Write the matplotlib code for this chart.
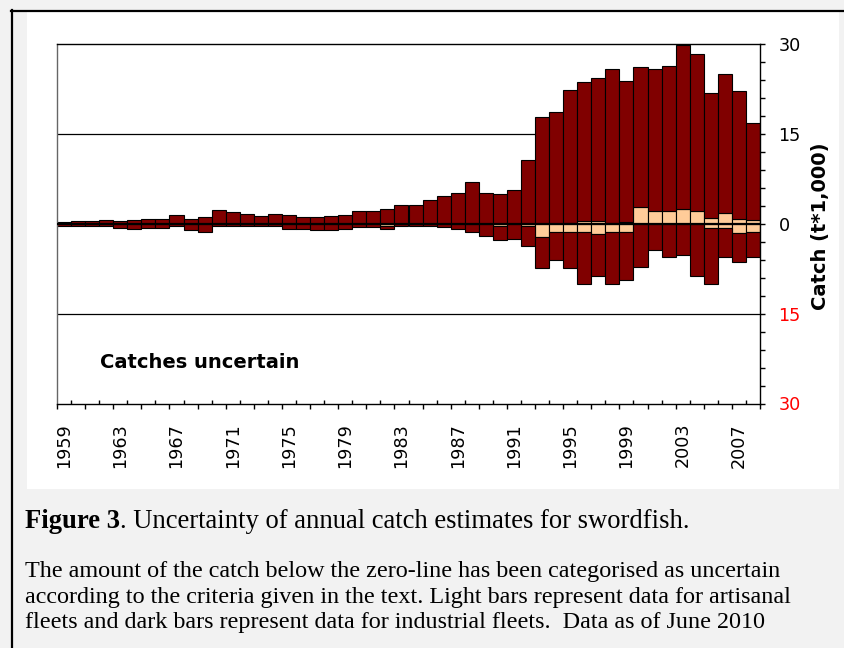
import matplotlib
matplotlib.use("Agg")
import matplotlib.pyplot as plt
from matplotlib.patches import Rectangle
from matplotlib.lines import Line2D
import numpy as np

# ---------------- data (t*1,000) ----------------
years = list(range(1959, 2009))

# certain catches (above zero)
total_certain = [0.35, 0.45, 0.45, 0.67, 0.45, 0.6, 0.83, 0.83, 1.5, 0.83,
                 1.06, 2.28, 1.9, 1.67, 1.22, 1.67, 1.44, 1.06, 1.06, 1.28,
                 1.5, 2.06, 2.06, 2.44, 3.05, 3.05, 3.9, 4.55, 5.1, 6.95,
                 5.1, 4.95, 5.56, 10.67, 17.83, 18.6, 22.3, 23.6, 24.3, 25.8,
                 23.9, 26.2, 25.8, 26.4, 29.9, 28.4, 21.9, 25.0, 22.2, 16.8]
artisanal_certain = [0]*36 + [0.1, 0.4, 0.4, 0.2, 0.3, 2.85, 2.1, 2.2, 2.4, 2.2,
                              0.95, 1.8, 0.8, 0.55]
# uncertain catches (below zero, magnitudes)
total_uncertain = [0.4, 0.3, 0.3, 0.3, 0.7, 0.95, 0.7, 0.7, 0.3, 1.1,
                   1.3, 0.3, 0.3, 0.3, 0.3, 0.3, 0.95, 0.95, 1.1, 1.1,
                   0.95, 0.55, 0.55, 0.9, 0.45, 0.4, 0.4, 0.5, 0.9, 1.4,
                   2.0, 2.7, 2.5, 3.7, 7.4, 6.0, 7.4, 10.05, 8.67, 10.05,
                   9.44, 7.2, 4.33, 5.56, 5.17, 8.78, 10.05, 5.56, 6.39, 5.56]
artisanal_uncertain = [0]*23 + [0.3, 0, 0, 0, 0, 0, 0, 0, 0.3, 0, 0.3,
                                2.2, 1.3, 1.3, 1.3, 1.7, 1.3, 1.44, 0, 0, 0, 0, 0,
                                0.67, 0.7, 1.56, 1.39]

label_years = list(range(1959, 2009, 4))
ytick_values = [30, 15, 0, -15, -30]

DARK = "#800000"
LIGHT = "#ffcc99"

yrs = np.array(years, dtype=float)
tc = np.array(total_certain)
ac = np.array(artisanal_certain)
tu = np.array(total_uncertain)
au = np.array(artisanal_uncertain)
ic = tc - ac
iu = tu - au

W, H = 844, 648
fig = plt.figure(figsize=(W/100, H/100), dpi=100, facecolor="#f2f2f2")

# white panel and frame lines
fig.patches.append(Rectangle((27/W, 1-489/H), (839-27)/W, (489-12)/H,
                             transform=fig.transFigure, facecolor="white",
                             edgecolor="none", zorder=-5))
fig.lines.append(Line2D([12/W, 12/W], [0, 1-10/H], transform=fig.transFigure,
                        color="black", lw=1.6, zorder=-4))
fig.lines.append(Line2D([11/W, 1], [1-11/H, 1-11/H], transform=fig.transFigure,
                        color="black", lw=1.6, zorder=-4))

ax = fig.add_axes([57/W, 1-403.5/H, 703/W, 359.5/H])
ax.set_zorder(2)
ax.set_facecolor("white")

bw = 1.0
kw = dict(width=bw, edgecolor="black", linewidth=0.8, align="center", zorder=2)
ax.bar(yrs, ac, color=LIGHT, **kw)
ax.bar(yrs, ic, bottom=ac, color=DARK, **kw)
ax.bar(yrs, -au, color=LIGHT, **kw)
ax.bar(yrs, -iu, bottom=-au, color=DARK, **kw)

ax.axhline(0, color="black", lw=1.6, zorder=3)
ax.axhline(15, color="black", lw=0.9, zorder=1)
ax.axhline(-15, color="black", lw=0.9, zorder=1)

ax.set_xlim(yrs[0]-0.5, yrs[-1]+0.5)
ax.set_ylim(-30, 30)

for s in ["top", "right", "bottom"]:
    ax.spines[s].set_color("black")
    ax.spines[s].set_linewidth(1.0)
ax.spines["left"].set_color("#666666")
ax.spines["left"].set_linewidth(1.0)

# y axis on the right
ax.yaxis.tick_right()
ax.set_yticks(ytick_values)
ax.set_yticklabels([str(abs(v)) for v in ytick_values])
ax.set_yticks(np.arange(-30, 31, 3), minor=True)
ax.tick_params(axis="y", which="both", direction="out", length=3.8, width=1,
               labelsize=12.7, pad=9.5, left=False, right=True)
for lab, v in zip(ax.get_yticklabels(), ytick_values):
    lab.set_color("red" if v < 0 else "black")

# x axis
ax.set_xticks(label_years)
ax.set_xticklabels([str(y) for y in label_years], rotation=90, fontsize=12.7,
                   va="top", ha="center")
ax.tick_params(axis="x", which="major", length=0, pad=14)
bounds = yrs[0] - 0.5 + np.arange(len(years) + 1)
ax.set_xticks(bounds[::2], minor=True)
ax.tick_params(axis="x", which="minor", direction="out", length=3.8, width=1)
sec = ax.secondary_xaxis("bottom")
sec.set_xticks(bounds[1::2])
sec.set_xticklabels([])
sec.tick_params(direction="in", length=2.8, width=1)
sec.spines["bottom"].set_visible(False)

ax.text((100-57)/703, (403.5-363)/359.5, "Catches uncertain", transform=ax.transAxes,
        fontsize=14, fontweight="bold", va="center", ha="left")

fig.text(820.5/W, 1-226/H, "Catch (t*1,000)", rotation=90, fontsize=14,
         fontweight="bold", ha="center", va="center")

# caption
serif = "Liberation Serif"
t1 = fig.text(25/W, 1-528/H, "Figure 3", family=serif, fontsize=19.2,
              fontweight="bold", va="baseline", ha="left")
fig.canvas.draw()
bb = t1.get_window_extent(fig.canvas.get_renderer())
fig.text(bb.x1/W, 1-528/H, ". Uncertainty of annual catch estimates for swordfish.",
         family=serif, fontsize=19.2, va="baseline", ha="left")
para = ["The amount of the catch below the zero-line has been categorised as uncertain",
        "according to the criteria given in the text. Light bars represent data for artisanal",
        "fleets and dark bars represent data for industrial fleets.  Data as of June 2010"]
for i, line in enumerate(para):
    fig.text(25/W, 1-(577+25.5*i)/H, line, family=serif, fontsize=17.4,
             va="baseline", ha="left")

fig.savefig("out.png", dpi=100, facecolor=fig.get_facecolor())
